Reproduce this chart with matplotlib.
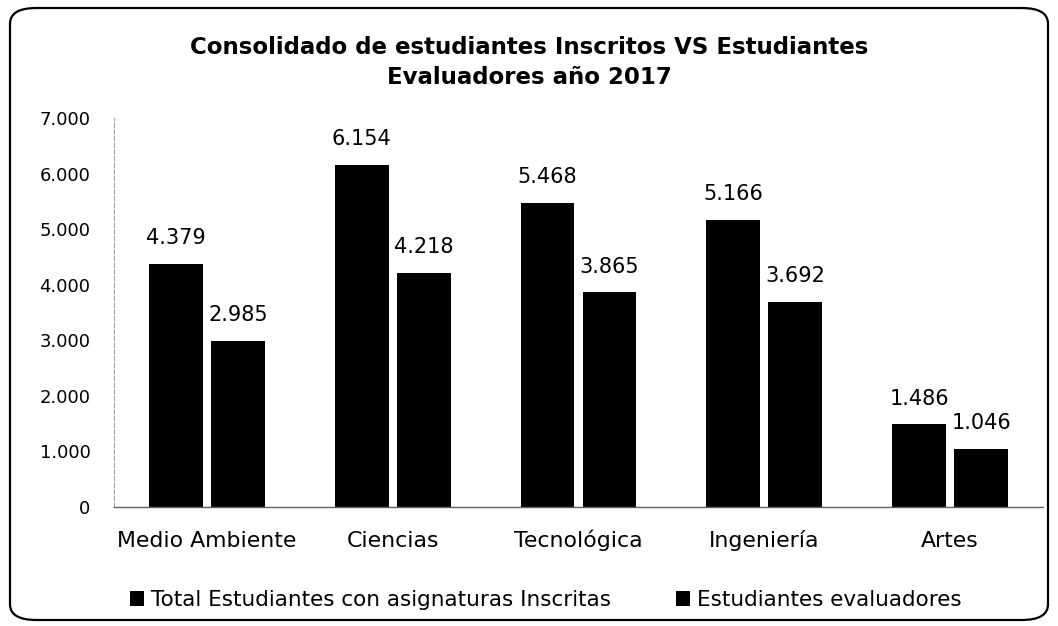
import matplotlib
matplotlib.use("Agg")
import matplotlib.pyplot as plt
from matplotlib.patches import FancyBboxPatch
from matplotlib.ticker import FuncFormatter

categories = ["Medio Ambiente", "Ciencias", "Tecnológica", "Ingeniería", "Artes"]
inscritos = [4379, 6154, 5468, 5166, 1486]
evaluadores = [2985, 4218, 3865, 3692, 1046]
series_names = ["Total Estudiantes con asignaturas Inscritas", "Estudiantes evaluadores"]
title = "Consolidado de estudiantes Inscritos VS Estudiantes\nEvaluadores año 2017"

plt.rcParams['font.family'] = ['DejaVu Sans']

W, H = 1058, 626
fig = plt.figure(figsize=(W / 100, H / 100), dpi=100)
fig.patch.set_facecolor("white")

# rounded border
border = FancyBboxPatch((10 / W, 6 / H), (W - 20) / W, (H - 14) / H,
                        boxstyle="round,pad=0,rounding_size=0.025",
                        transform=fig.transFigure, fill=False,
                        edgecolor="black", linewidth=1.6)
fig.patches.append(border)

left, right = 114 / W, 1043 / W
bottom, top = 1 - 507 / H, 1 - 118 / H
ax = fig.add_axes([left, bottom, right - left, top - bottom])

x = list(range(len(categories)))
bw = 0.29
off = 0.167
b1 = ax.bar([i - off for i in x], inscritos, width=bw, color="black", label=series_names[0])
b2 = ax.bar([i + off for i in x], evaluadores, width=bw, color="black", label=series_names[1])

def fmt(v):
    return f"{int(v):,}".replace(",", ".")

for bars, vals in ((b1, inscritos), (b2, evaluadores)):
    for r, v in zip(bars, vals):
        ax.annotate(fmt(v), (r.get_x() + r.get_width() / 2, v),
                    xytext=(0, 18.5), textcoords="offset points",
                    ha="center", va="center", fontsize=15, color="black")

ax.set_xlim(-0.5, len(categories) - 0.5)
ax.set_ylim(0, 7000)
ax.set_yticks(range(0, 7001, 1000))
ax.yaxis.set_major_formatter(FuncFormatter(lambda v, p: fmt(v)))
ax.set_xticks(x)
ax.set_xticklabels(categories)
ax.tick_params(axis="both", length=0, colors="black")
ax.tick_params(axis="x", labelsize=15.8, pad=28.5)
ax.tick_params(axis="y", labelsize=13, pad=17)
for lab in ax.get_xticklabels():
    lab.set_verticalalignment("baseline")

for s in ("top", "right"):
    ax.spines[s].set_visible(False)
ax.spines["left"].set_color("#a0a0a0")
ax.spines["left"].set_linewidth(0.8)
ax.spines["left"].set_linestyle((0, (4, 2)))
ax.spines["bottom"].set_color("#606060")
ax.spines["bottom"].set_linewidth(1.0)

title_lines = title.split("\n")
for line, yc in zip(title_lines, (47, 77)):
    fig.text(0.5, 1 - yc / H, line, ha="center", va="center",
             fontsize=16.5, fontweight="bold")

fig.legend(handles=[b1, b2], labels=series_names, loc="center",
           bbox_to_anchor=(0.516, 1 - 600 / H), ncol=2, frameon=False,
           fontsize=15.5, handlelength=0.65, handleheight=0.65,
           handletextpad=0.35, columnspacing=3.0)

fig.savefig("out.png", dpi=100, facecolor="white")
